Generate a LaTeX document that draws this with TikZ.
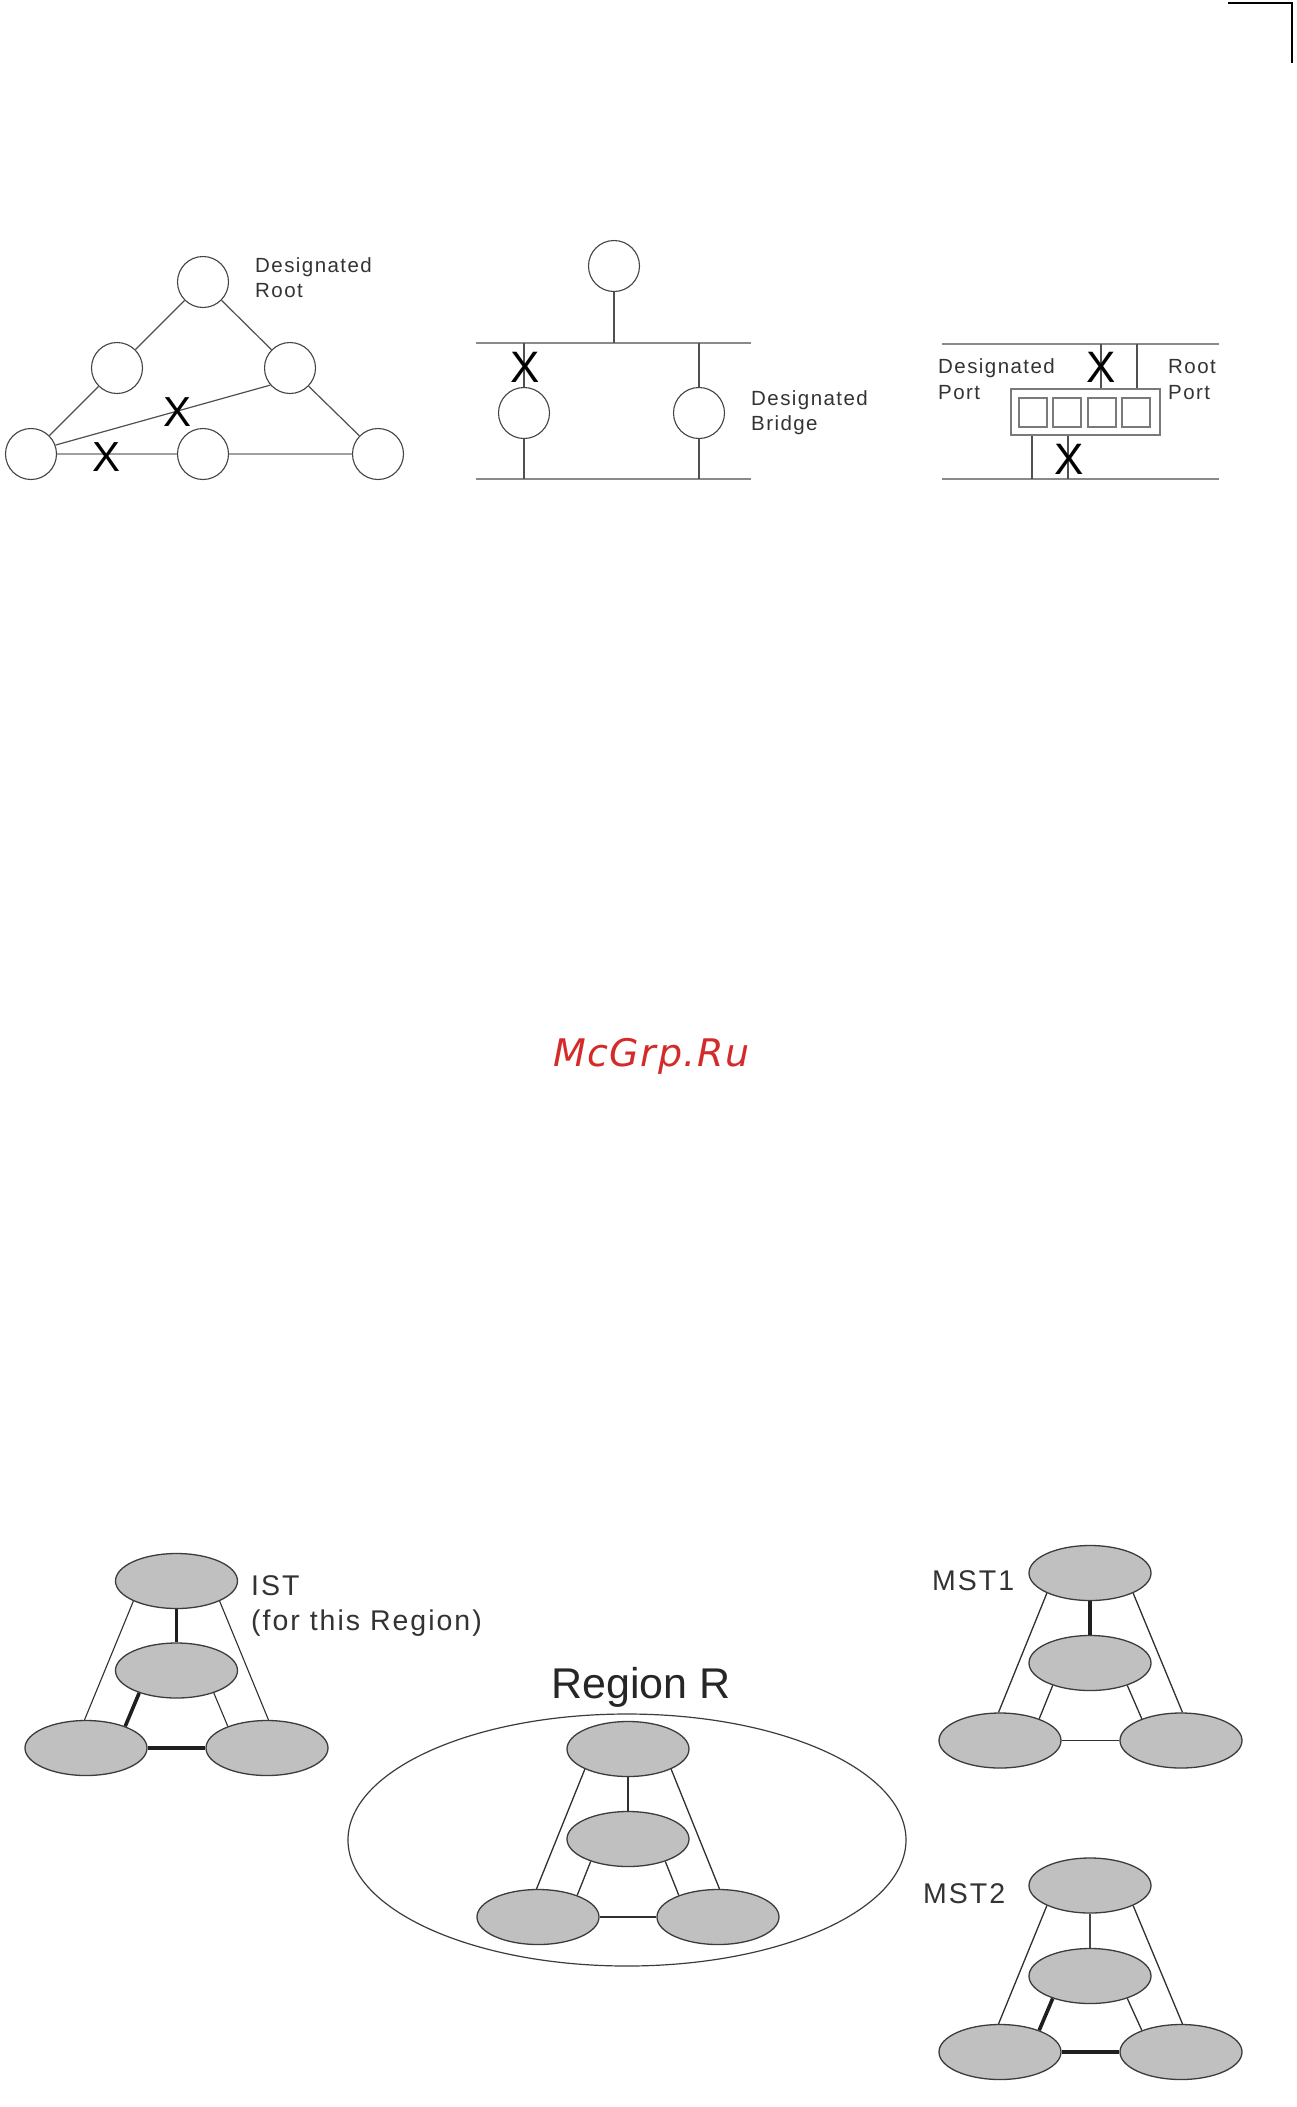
\documentclass[tikz,border=0pt]{standalone}
\usepackage{fontspec}
\usetikzlibrary{shapes.geometric}
\newfontfamily\labfont[LetterSpace=7]{Liberation Sans}
\newfontfamily\plainfont{Liberation Sans}
\newfontfamily\wmfont[LetterSpace=4]{DejaVu Sans}
\definecolor{txtgray}{HTML}{333333}
\definecolor{linegray}{HTML}{505050}
\definecolor{circgray}{HTML}{444444}
\definecolor{busgray}{HTML}{8A8A8A}
\definecolor{sqgray}{HTML}{7A7A7A}
\definecolor{lightbus}{HTML}{A0A0A0}
\definecolor{ellfill}{HTML}{C0C0C0}
\definecolor{ellborder}{HTML}{3C3C3C}
\definecolor{conngray}{HTML}{303030}
\definecolor{wmred}{HTML}{D42A2A}
\pgfdeclarelayer{bg}
\pgfdeclarelayer{paper}
\pgfsetlayers{paper,bg,main}
\tikzset{
  bridge/.style={circle, draw=circgray, line width=1.1pt, minimum size=51pt, inner sep=0pt, fill=white},
  lab/.style={anchor=base west, inner sep=0pt, text=txtgray, font=\labfont\fontsize{20.5}{24}\selectfont},
  biglab/.style={anchor=base west, inner sep=0pt, text=txtgray, font=\labfont\fontsize{28.5}{32}\selectfont},
  xmark/.style={inner sep=0pt, text=black, font=\plainfont\fontsize{42}{42}\selectfont},
  thinline/.style={draw=linegray, line width=1.2pt},
  graybus/.style={draw=busgray, line width=2.3pt},
  lightline/.style={draw=lightbus, line width=2.8pt},
  ell/.style={ellipse, draw=ellborder, fill=ellfill, line width=1.3pt, minimum width=122pt, minimum height=55pt, inner sep=0pt},
  conn/.style={draw=conngray, line width=1.3pt},
  heavy/.style={draw=black!88, line width=3.6pt},
  medium/.style={draw=black!72, line width=2.3pt},
  portsq/.style={rectangle, draw=sqgray, line width=2.4pt, minimum width=28pt, minimum height=29pt, inner sep=0pt},
  portbox/.style={rectangle, draw=sqgray, line width=1.8pt, minimum width=149pt, minimum height=46pt, inner sep=0pt, fill=white}
}
\begin{document}
\begin{tikzpicture}[x=1pt,y=-1pt]
\useasboundingbox (0,0) rectangle (1296,2107);
\begin{pgfonlayer}{paper}
\fill[white] (0,0) rectangle (1296,2107);
\end{pgfonlayer}

% ---------- corner mark ----------
\draw[line width=2pt, black] (1228,3) -- (1292,3) -- (1292,63);

% ---------- top-left: triangle ----------
\node[bridge] (tt) at (203,282) {};
\node[bridge] (tml) at (117,368) {};
\node[bridge] (tmr) at (290,368) {};
\node[bridge] (tbl) at (31,454) {};
\node[bridge] (tbm) at (203,454) {};
\node[bridge] (tbr) at (378,454) {};
\draw[thinline] (tt) -- (tml);
\draw[thinline] (tt) -- (tmr);
\draw[thinline] (tml) -- (tbl);
\draw[thinline] (tmr) -- (tbr);
\draw[thinline] (tbl.20) -- (tmr.221);
\draw[lightline] (tbl) -- (tbm);
\draw[lightline] (tbm) -- (tbr);
\node[xmark] (x1) at (178,412) {X};
\node[xmark] (x2) at (107,457) {X};
\node[lab] (dr1) at (255,272) {Designated};
\node[lab] (dr2) at (255,297) {Root};

% ---------- top-middle: shared LAN ----------
\coordinate (mbusL) at (476,343);
\coordinate (mbusR) at (751,343);
\coordinate (mbbL) at (476,479);
\coordinate (mbbR) at (751,479);
\node[bridge] (mt) at (614,266) {};
\node[bridge] (ml) at (524,413) {};
\node[bridge] (mr) at (699,413) {};
\draw[graybus] (mbusL) -- (mbusR);
\draw[graybus] (mbbL) -- (mbbR);
\draw[thinline] (mt.south) -- (mt |- mbusL);
\draw[thinline] (ml.north) -- (ml |- mbusL);
\draw[thinline] (ml.south) -- (ml |- mbbL);
\draw[thinline] (mr.north) -- (mr |- mbusL);
\draw[thinline] (mr.south) -- (mr |- mbbL);
\node[xmark, font=\plainfont\fontsize{44}{44}\selectfont] (x3) at (525,367) {X};
\node[lab] (db1) at (751,405) {Designated};
\node[lab] (db2) at (751,430) {Bridge};

% ---------- top-right: ports ----------
\coordinate (rbusL) at (942,344);
\coordinate (rbusR) at (1219,344);
\coordinate (rbbL) at (942,479);
\coordinate (rbbR) at (1219,479);
\draw[graybus] (rbusL) -- (rbusR);
\draw[graybus] (rbbL) -- (rbbR);
\node[portbox] (box) at (1085.5,412) {};
\node[portsq] (p1) at (1033,412.5) {};
\node[portsq] (p2) at (1067,412.5) {};
\node[portsq] (p3) at (1102,412.5) {};
\node[portsq] (p4) at (1136,412.5) {};
\coordinate (v1) at (1101,344);
\coordinate (v2) at (1137,344);
\coordinate (v3) at (1032,479);
\coordinate (v4) at (1068,479);
\draw[thinline] (v1) -- (v1 |- box.north);
\draw[thinline] (v2) -- (v2 |- box.north);
\draw[thinline] (v3) -- (v3 |- box.south);
\draw[thinline] (v4) -- (v4 |- box.south);
\node[xmark, font=\plainfont\fontsize{44}{44}\selectfont] (x4) at (1101,367) {X};
\node[xmark, font=\plainfont\fontsize{44}{44}\selectfont] (x5) at (1069,459) {X};
\node[lab] (dp1) at (938,373) {Designated};
\node[lab] (dp2) at (938,399) {Port};
\node[lab] (rp1) at (1168,373) {Root};
\node[lab] (rp2) at (1168,399) {Port};

% ---------- watermark ----------
\node[anchor=base west, inner sep=0pt, text=wmred, font=\wmfont\itshape\fontsize{38}{40}\selectfont] (wm) at (553,1066) {McGrp.Ru};

% ---------- IST ----------
\node[ell] (i1) at (176.5,1581) {};
\node[ell] (i2) at (176.5,1670.5) {};
\node[ell] (i3) at (86,1748) {};
\node[ell] (i4) at (267,1748) {};
\begin{pgfonlayer}{bg}
\draw[conn, line width=1.1pt] (i1.205) -- (i3.93);
\draw[conn, line width=1.1pt] (i1.335) -- (i4.87);
\draw[heavy] (i1.270) -- (i2.90);
\draw[heavy] (i2.211) -- (i3.29);
\draw[conn, line width=1.1pt] (i2.329) -- (i4.151);
\draw[heavy] (i3.0) -- (i4.180);
\end{pgfonlayer}
\node[biglab] (ist1) at (251,1595) {IST};
\node[biglab] (ist2) at (251,1630) {(for this Region)};

% ---------- Region R ----------
\node[ellipse, draw=ellborder, line width=1.2pt, minimum width=558pt, minimum height=252pt, inner sep=0pt] (reg) at (627,1840) {};
\node[anchor=base west, inner sep=0pt, text=black!85, font=\plainfont\fontsize{43}{45}\selectfont] (regl) at (551,1698) {Region R};
\node[ell] (r1) at (628,1749) {};
\node[ell] (r2) at (628,1839) {};
\node[ell] (r3) at (538,1917) {};
\node[ell] (r4) at (718,1917) {};
\begin{pgfonlayer}{bg}
\draw[conn] (r1.205) -- (r3.93);
\draw[conn] (r1.335) -- (r4.87);
\draw[conn] (r1.270) -- (r2.90);
\draw[conn] (r2.211) -- (r3.29);
\draw[conn] (r2.329) -- (r4.151);
\draw[conn] (r3.0) -- (r4.180);
\end{pgfonlayer}

% ---------- MST1 ----------
\node[ell] (a1) at (1090,1573) {};
\node[ell] (a2) at (1090,1663) {};
\node[ell] (a3) at (1000,1740.5) {};
\node[ell] (a4) at (1181,1740.5) {};
\begin{pgfonlayer}{bg}
\draw[conn] (a1.205) -- (a3.93);
\draw[conn] (a1.335) -- (a4.87);
\draw[heavy] (a1.270) -- (a2.90);
\draw[conn] (a2.211) -- (a3.29);
\draw[conn] (a2.329) -- (a4.151);
\draw[conn] (a3.0) -- (a4.180);
\end{pgfonlayer}
\node[biglab] (mst1) at (932,1590) {MST1};

% ---------- MST2 ----------
\node[ell] (b1) at (1090,1885.5) {};
\node[ell] (b2) at (1090,1976) {};
\node[ell] (b3) at (1000,2052) {};
\node[ell] (b4) at (1181,2052) {};
\begin{pgfonlayer}{bg}
\draw[conn] (b1.205) -- (b3.93);
\draw[conn] (b1.335) -- (b4.87);
\draw[medium] (b1.270) -- (b2.90);
\draw[heavy] (b2.211) -- (b3.29);
\draw[conn] (b2.329) -- (b4.151);
\draw[heavy] (b3.0) -- (b4.180);
\end{pgfonlayer}
\node[biglab] (mst2) at (923,1903) {MST2};
\end{tikzpicture}
\end{document}
